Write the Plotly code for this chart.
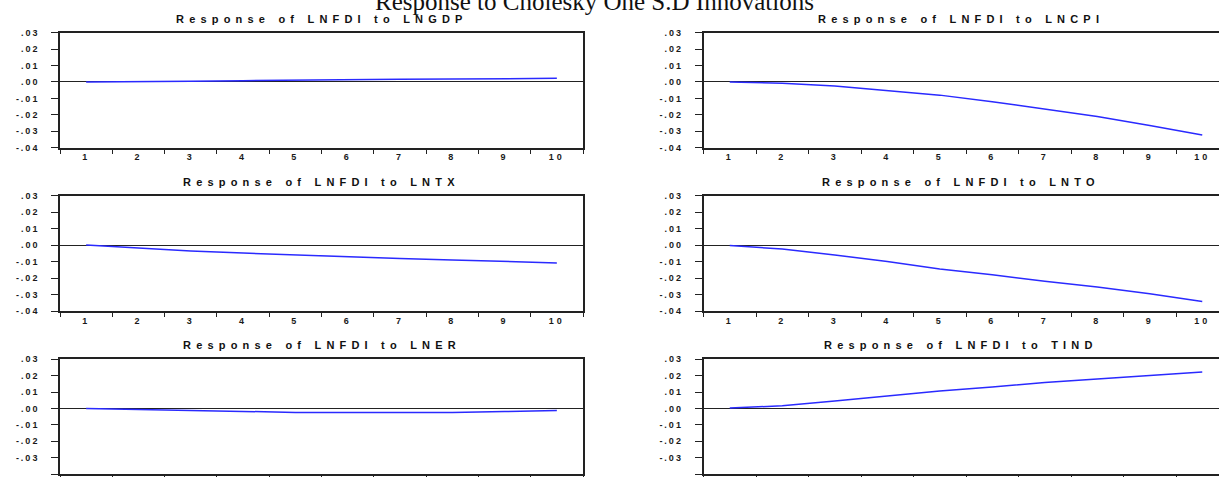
import plotly.graph_objects as go

# ---------------- data ----------------
periods = [1, 2, 3, 4, 5, 6, 7, 8, 9, 10]
period_labels = ["1", "2", "3", "4", "5", "6", "7", "8", "9", "10"]

lngdp = [0.0000, 0.0001, 0.0005, 0.0008, 0.0012, 0.0014, 0.0016, 0.0018, 0.0021, 0.0022]
lncpi = [0.0000, -0.0008, -0.0024, -0.0050, -0.0080, -0.0120, -0.0166, -0.0210, -0.0265, -0.0322]
lntx = [0.0000, -0.0018, -0.0035, -0.0048, -0.0060, -0.0072, -0.0082, -0.0090, -0.0098, -0.0108]
lnto = [-0.0003, -0.0024, -0.0060, -0.0100, -0.0145, -0.0180, -0.0220, -0.0255, -0.0295, -0.0343]
lner = [0.0000, -0.0006, -0.0014, -0.0020, -0.0024, -0.0025, -0.0025, -0.0024, -0.0019, -0.0012]
tind = [0.0003, 0.0016, 0.0046, 0.0077, 0.0107, 0.0131, 0.0158, 0.0180, 0.0202, 0.0222]

series = [lngdp, lncpi, lntx, lnto, lner, tind]
panel_titles = [
    "Response of LNFDI to LNGDP",
    "Response of LNFDI to LNCPI",
    "Response of LNFDI to LNTX",
    "Response of LNFDI to LNTO",
    "Response of LNFDI to LNER",
    "Response of LNFDI to TIND",
]
y_tickvals = [-0.04, -0.03, -0.02, -0.01, 0.0, 0.01, 0.02, 0.03]
y_ticklabels = ["-.04", "-.03", "-.02", "-.01", ".00", ".01", ".02", ".03"]
main_title = "Response to Cholesky One S.D Innovations"

# ---------------- layout geometry (pixels) ----------------
W, H = 1219, 477
col_px = [(60, 583, 10.5), (703.5, 1219, 0.5 + (1219 - 703.5) / 52.5)]
row_px = [(32.7, 147.7), (195.7, 311.0), (359.3, 474.0)]


def spaced(t, px):
    return f'<span style="letter-spacing:{px}px">{t}</span>'


fig = go.Figure()
tick_font = dict(family="Liberation Sans, Arial", size=9, color="#1a1a1a", weight="bold")
title_font = dict(family="Liberation Sans, Arial", size=11, color="#111", weight="bold")

for i, vals in enumerate(series):
    r, c = divmod(i, 2)
    n = i + 1
    xa = "x" if n == 1 else f"x{n}"
    ya = "y" if n == 1 else f"y{n}"
    x0, x1, xmax = col_px[c]
    top, bot = row_px[r]
    fig.add_trace(go.Scatter(
        x=periods, y=vals, mode="lines",
        line=dict(color="#2a2aff", width=1.5),
        xaxis=xa, yaxis=ya, showlegend=False, hoverinfo="skip",
    ))
    fig.layout[f"xaxis{'' if n == 1 else n}"] = dict(
        domain=[x0 / W, min(x1 / W, 1.0)],
        range=[0.5, xmax],
        anchor=ya,
        tickmode="array",
        tickvals=periods,
        ticktext=[spaced(t, 3) for t in period_labels],
        ticks="",
        minor=dict(ticks="outside", tickmode="linear", tick0=0.5, dtick=1,
                   ticklen=4, tickcolor="#222", tickwidth=1.2, showgrid=False),
        showline=True, linecolor="#222", linewidth=1.6,
        mirror=True,
        showgrid=False, zeroline=False,
        tickfont=tick_font,
        automargin=False,
    )
    fig.layout[f"yaxis{'' if n == 1 else n}"] = dict(
        domain=[1 - bot / H, 1 - top / H],
        range=[-0.04, 0.03],
        anchor=xa,
        tickmode="array",
        tickvals=y_tickvals,
        ticktext=[spaced(t, 2) for t in y_ticklabels],
        ticks="outside", ticklen=7, tickcolor="#222", tickwidth=1.2,
        ticklabelstandoff=10,
        showline=True, linecolor="#222", linewidth=1.6,
        mirror=(c == 0),
        showgrid=False,
        zeroline=True, zerolinecolor="#222", zerolinewidth=1.2,
        tickfont=tick_font,
        automargin=False,
    )
    cx = ((x0 + (x0 + (xmax - 0.5) * 52.5 if c == 1 else x1)) / 2) / W
    fig.add_annotation(
        text=spaced(panel_titles[i], 5.2), x=cx, y=1 - (top - 14) / H,
        xref="paper", yref="paper", xanchor="center", yanchor="middle",
        showarrow=False, font=title_font,
    )

# overall heading
fig.add_annotation(
    text=main_title, x=594 / W, y=1 - 1 / H, xref="paper", yref="paper",
    xanchor="center", yanchor="middle", showarrow=False,
    font=dict(family="Liberation Serif, Times New Roman", size=25, color="#111"),
)

fig.update_layout(
    width=W, height=H,
    margin=dict(l=0, r=0, t=0, b=0),
    paper_bgcolor="white", plot_bgcolor="white",
)

fig.write_html(
    "out.html",
    config={"displayModeBar": False},
    post_script="document.body.style.margin='0px';document.body.style.padding='0px';"
                "document.body.style.overflow='hidden';",
)
